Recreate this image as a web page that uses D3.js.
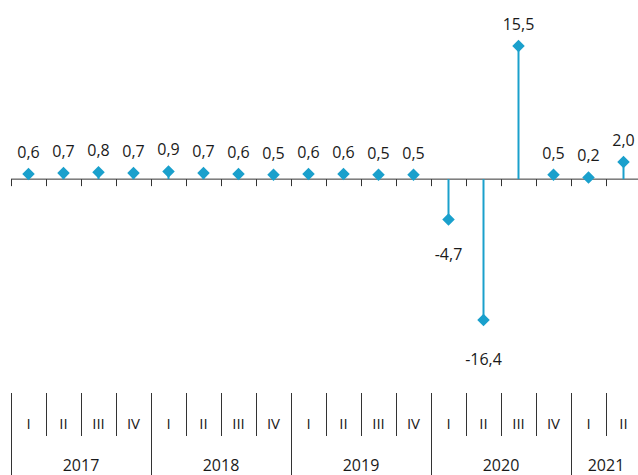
<!DOCTYPE html>
<html>
<head>
<meta charset="utf-8">
<script src="https://cdn.jsdelivr.net/npm/d3@7"></script>
<style>
  html, body { margin: 0; padding: 0; background: #fff; }
  svg { display: block; }
  text { font-family: "Open Sans", "Noto Sans", sans-serif; fill: #1a1a1a; }
</style>
</head>
<body>
<svg id="chart" width="638" height="475"></svg>
<script>
const years = ["2017", "2018", "2019", "2020", "2021"];
const quarters = ["I", "II", "III", "IV", "I", "II", "III", "IV", "I", "II", "III", "IV", "I", "II", "III", "IV", "I", "II"];
const quarterYears = ["2017","2017","2017","2017","2018","2018","2018","2018","2019","2019","2019","2019","2020","2020","2020","2020","2021","2021"];
const values = [0.6, 0.7, 0.8, 0.7, 0.9, 0.7, 0.6, 0.5, 0.6, 0.6, 0.5, 0.5, -4.7, -16.4, 15.5, 0.5, 0.2, 2.0];
const valueLabels = ["0,6","0,7","0,8","0,7","0,9","0,7","0,6","0,5","0,6","0,6","0,5","0,5","-4,7","-16,4","15,5","0,5","0,2","2,0"];

const color = "#1aa0cc";
const svg = d3.select("#chart");
const idx = d3.range(values.length);

const x = d3.scaleBand().domain(idx).range([11, 641]).padding(0);
const y = d3.scaleLinear().domain([-16.4, 15.5]).range([320, 46]);
const y0 = y(0);

// zero axis line with ticks at band boundaries
svg.append("line")
  .attr("x1", x.range()[0]).attr("x2", 638)
  .attr("y1", y0).attr("y2", y0)
  .attr("stroke", "#333").attr("stroke-width", 1);
const bounds = idx.map(i => x(i));
svg.selectAll(".tick0").data(bounds).enter().append("line")
  .attr("x1", d => Math.round(d) + 0.5).attr("x2", d => Math.round(d) + 0.5)
  .attr("y1", y0).attr("y2", y0 + 7)
  .attr("stroke", "#333").attr("stroke-width", 1);

// stems
svg.selectAll(".stem").data(idx).enter().append("line")
  .attr("x1", i => x(i) + x.bandwidth() / 2)
  .attr("x2", i => x(i) + x.bandwidth() / 2)
  .attr("y1", y0).attr("y2", i => y(values[i]))
  .attr("stroke", color).attr("stroke-width", 2);

// diamonds
const diamond = d3.symbol().type(d3.symbolDiamond2).size(100);
svg.selectAll(".pt").data(idx).enter().append("path")
  .attr("d", diamond)
  .attr("transform", i => `translate(${x(i) + x.bandwidth() / 2},${y(values[i])})`)
  .attr("fill", color);

// value labels
svg.selectAll(".lbl").data(idx).enter().append("text")
  .attr("x", i => x(i) + x.bandwidth() / 2)
  .attr("y", i => values[i] >= 0 ? y(values[i]) - 16 : y(values[i] * 1.05) + 38)
  .attr("text-anchor", "middle")
  .attr("font-size", 16)
  .text(i => valueLabels[i]);

// category axis at bottom
const qTop = 393, qBottom = 436, yBottom = 475;
svg.selectAll(".qsep").data(idx).enter().append("line")
  .attr("x1", i => Math.round(x(i)) + 0.5).attr("x2", i => Math.round(x(i)) + 0.5)
  .attr("y1", qTop)
  .attr("y2", i => (i === 0 || quarterYears[i] !== quarterYears[i - 1]) ? yBottom : qBottom)
  .attr("stroke", "#333").attr("stroke-width", 1);

svg.selectAll(".qlbl").data(idx).enter().append("text")
  .attr("x", i => x(i) + x.bandwidth() / 2)
  .attr("y", 429)
  .attr("text-anchor", "middle")
  .attr("font-size", 15)
  .text(i => quarters[i]);

svg.selectAll(".ylbl").data(years).enter().append("text")
  .attr("x", yr => {
    const ids = idx.filter(i => quarterYears[i] === yr);
    return (x(ids[0]) + x(ids[ids.length - 1]) + x.bandwidth()) / 2;
  })
  .attr("y", 471)
  .attr("text-anchor", "middle")
  .attr("font-size", 16)
  .text(yr => yr);
</script>
</body>
</html>
